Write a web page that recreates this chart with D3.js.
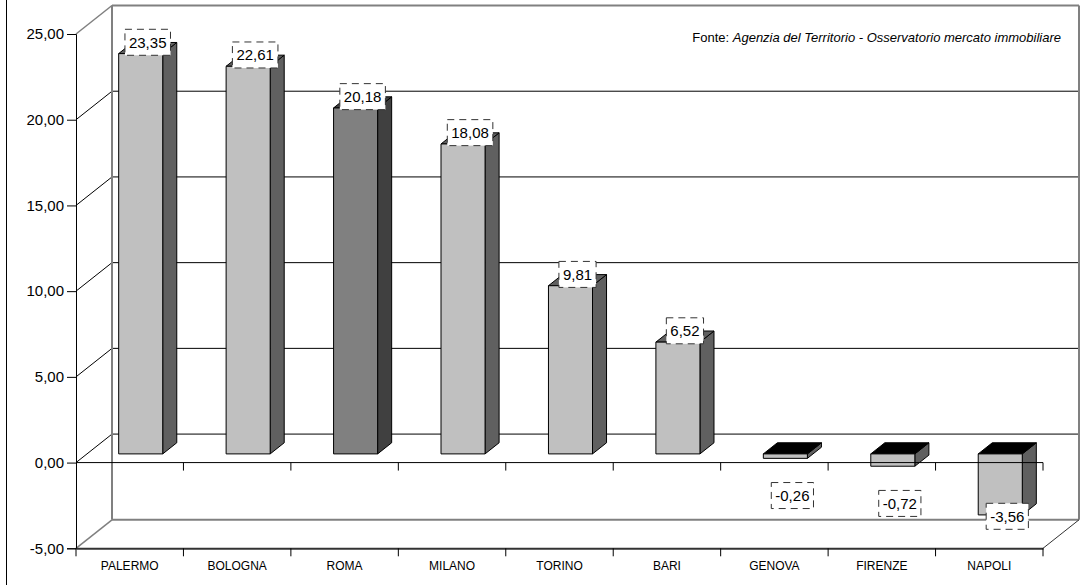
<!DOCTYPE html>
<html>
<head>
<meta charset="utf-8">
<script src="https://cdn.jsdelivr.net/npm/d3@7"></script>
<style>
  html, body { margin: 0; padding: 0; background: #fff; }
  svg { display: block; font-family: Arial, "Liberation Sans", sans-serif; }
</style>
</head>
<body>
<svg id="chart" width="1088" height="585"></svg>
<script>
// ---- data ----
const categories = ["PALERMO", "BOLOGNA", "ROMA", "MILANO", "TORINO", "BARI", "GENOVA", "FIRENZE", "NAPOLI"];
const values = [23.35, 22.61, 20.18, 18.08, 9.81, 6.52, -0.26, -0.72, -3.56];
const highlighted = ["ROMA"];
const yTicks = [-5, 0, 5, 10, 15, 20, 25];
const sourcePrefix = "Fonte: ";
const sourceText = "Agenzia del Territorio - Osservatorio mercato immobiliare";

// ---- layout ----
const W = 1088, H = 585;
const svg = d3.select("#chart");
const fmt = d3.formatLocale({decimal: ",", thousands: ".", grouping: [3], currency: ["€", ""], minus: "-"}).format(".2f");

const x = d3.scaleBand().domain(categories).range([76, 1043]).paddingInner(0).paddingOuter(0);
const y = d3.scaleLinear().domain([-5, 25]).range([548.3, 34]);
const DX = 36, DY = -28.5;        // depth of the 3D box
const d0 = 0.305, d1 = 0.695;     // bar depth span
const barFrac = 0.41;
const wallColor = "#808080";

// outer frame (left edge visible)
svg.append("line").attr("x1", 6.5).attr("x2", 6.5).attr("y1", 0).attr("y2", H)
  .attr("stroke", "#000").attr("stroke-width", 1);

// back wall
const bx0 = x.range()[0] + DX, bx1 = x.range()[1] + DX;
const g = svg.append("g");
yTicks.forEach(t => {
  const edge = (t === 25 || t === -5);
  g.append("line")
    .attr("x1", bx0).attr("x2", bx1)
    .attr("y1", y(t) + DY).attr("y2", y(t) + DY)
    .attr("stroke", edge ? wallColor : "#000")
    .attr("stroke-width", edge ? 2 : 1);
  g.append("line")
    .attr("x1", x.range()[0]).attr("y1", y(t))
    .attr("x2", bx0).attr("y2", y(t) + DY)
    .attr("stroke", edge ? wallColor : "#000")
    .attr("stroke-width", edge ? 1.5 : 1);
});
g.append("line").attr("x1", bx0).attr("x2", bx0).attr("y1", y(25) + DY).attr("y2", y(-5) + DY)
  .attr("stroke", wallColor).attr("stroke-width", 2);
g.append("line").attr("x1", bx1).attr("x2", bx1).attr("y1", y(25) + DY).attr("y2", y(-5) + DY)
  .attr("stroke", wallColor).attr("stroke-width", 2);
g.append("line").attr("x1", x.range()[1]).attr("y1", y(-5))
  .attr("x2", bx1).attr("y2", y(-5) + DY)
  .attr("stroke", "#333").attr("stroke-width", 1);

// front value axis
const yAxis = d3.axisLeft(y).tickValues(yTicks).tickFormat(fmt).tickSize(9).tickPadding(3);
const ya = svg.append("g").attr("transform", `translate(${x.range()[0]},0)`).call(yAxis);
ya.select(".domain").attr("stroke", "#000");
ya.selectAll(".tick line").attr("stroke", "#000");
ya.selectAll("text").attr("font-size", 15).attr("fill", "#000")
  .attr("font-family", "Arial, 'Liberation Sans', sans-serif");

// bottom floor front edge with category labels
const xAxis = d3.axisBottom(x).tickSize(0).tickPadding(13);
const xa = svg.append("g").attr("transform", `translate(0,${y(-5)})`).call(xAxis);
xa.select(".domain").attr("stroke", "#333").attr("stroke-width", 2);
xa.selectAll("text").attr("font-size", 12).attr("fill", "#000")
  .attr("font-family", "Arial, 'Liberation Sans', sans-serif");
const bounds = categories.map(c => x(c)).concat([x.range()[1]]);
svg.append("g").selectAll("line").data(bounds).join("line")
  .attr("x1", d => d).attr("x2", d => d)
  .attr("y1", y(-5)).attr("y2", y(-5) + 8)
  .attr("stroke", "#000");

// bars
const bw = x.bandwidth() * barFrac;
const bdx = (d1 - d0) * DX, bdy = (d1 - d0) * DY;
const bars = svg.append("g");
categories.forEach((c, i) => {
  const v = values[i];
  const hl = highlighted.includes(c);
  const front = hl ? "#808080" : "#c0c0c0";
  const side = hl ? "#404040" : "#606060";
  const top = v < 0 ? "#000" : (hl ? "#404040" : "#606060");
  const fx = x(c) + (x.bandwidth() - bw) / 2 + d0 * DX;
  const yT = y(Math.max(v, 0)) + d0 * DY;
  const yB = y(Math.min(v, 0)) + d0 * DY;
  const bg = bars.append("g").attr("stroke", "#000").attr("stroke-width", 1).attr("stroke-linejoin", "round");
  bg.append("polygon").attr("points", [
    [fx + bw, yT], [fx + bw + bdx, yT + bdy], [fx + bw + bdx, yB + bdy], [fx + bw, yB]
  ].map(p => p.join(",")).join(" ")).attr("fill", side);
  bg.append("polygon").attr("points", [
    [fx, yT], [fx + bw, yT], [fx + bw + bdx, yT + bdy], [fx + bdx, yT + bdy]
  ].map(p => p.join(",")).join(" ")).attr("fill", top);
  bg.append("rect").attr("x", fx).attr("y", yT).attr("width", bw).attr("height", Math.max(yB - yT, 0))
    .attr("fill", front);
});

// zero line (category axis crossing at 0) in front
svg.append("line").attr("x1", x.range()[0]).attr("x2", x.range()[1])
  .attr("y1", y(0)).attr("y2", y(0)).attr("stroke", "#000").attr("stroke-width", 1);
svg.append("g").selectAll("line").data(bounds.slice(1)).join("line")
  .attr("x1", d => d).attr("x2", d => d)
  .attr("y1", y(0)).attr("y2", y(0) + 8)
  .attr("stroke", "#000");

// value labels
const labels = svg.append("g");
categories.forEach((c, i) => {
  const v = values[i];
  const cx = x(c) + x.bandwidth() / 2 + DX / 2;
  const cy = v >= 0 ? y(v) - 20 : Math.min(y(v) + 28.5, y(-5) - 32);
  const lg = labels.append("g");
  const t = lg.append("text").attr("x", cx).attr("y", cy).attr("text-anchor", "middle")
    .attr("dominant-baseline", "central").attr("font-size", 15).attr("fill", "#000")
    .text(fmt(v));
  const tw = t.node().getComputedTextLength();
  lg.insert("rect", "text")
    .attr("x", cx - tw / 2 - 4).attr("y", cy - 13)
    .attr("width", tw + 8).attr("height", 26)
    .attr("fill", "#fff").attr("stroke", "#333").attr("stroke-width", 1)
    .attr("stroke-dasharray", "7,5");
});

// source note
const src = svg.append("text").attr("x", 1061).attr("y", 42).attr("text-anchor", "end")
  .attr("font-size", 13).attr("fill", "#000");
src.append("tspan").text(sourcePrefix);
src.append("tspan").attr("font-style", "italic").text(sourceText);
</script>
</body>
</html>
